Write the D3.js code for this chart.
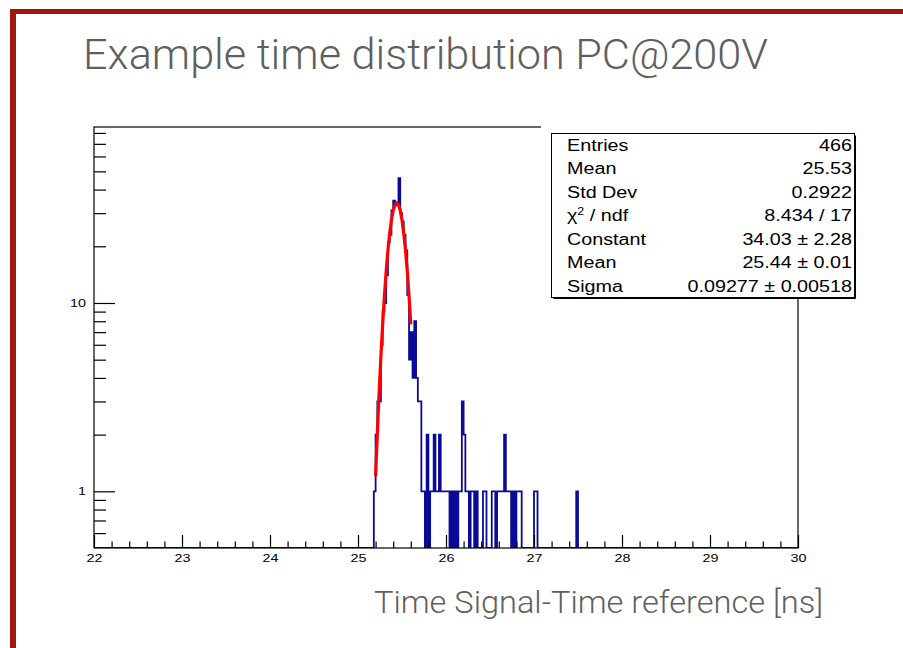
<!doctype html>
<html>
<head>
<meta charset="utf-8">
<title>Example time distribution PC@200V</title>
<script src="https://cdnjs.cloudflare.com/ajax/libs/d3/7.8.5/d3.min.js"></script>
<style>
  body { margin: 0; background: #fff; }
  svg { display: block; }
  text { font-family: "Liberation Sans", Arial, Helvetica, sans-serif; }
  .slide { font-family: Roboto, "Liberation Sans", Arial, sans-serif; font-weight: 300; }
</style>
</head>
<body>
<div id="chart"></div>
<script>
// histogram: lower edge (ns) and content of every non-empty bin, bins are 0.02 ns wide
const binWidth = 0.02;
const binLow = [25.18, 25.20, 25.22, 25.24, 25.26, 25.28, 25.30, 25.32, 25.34, 25.36,
                25.38, 25.40, 25.42, 25.44, 25.46, 25.48, 25.50, 25.52, 25.54, 25.56,
                25.58, 25.60, 25.62, 25.64, 25.66, 25.68, 25.70, 25.72, 25.74, 25.78,
                25.82, 25.84, 25.86, 25.88, 25.90, 25.92, 25.94, 25.96, 25.98, 26.00,
                26.02, 26.06, 26.10, 26.14, 26.16, 26.18, 26.20, 26.22, 26.24, 26.28,
                26.30, 26.34, 26.42, 26.44, 26.52, 26.54, 26.58, 26.60, 26.62, 26.64,
                26.66, 26.68, 26.70, 26.72, 26.76, 26.80, 26.82, 26.84, 27.00, 27.02,
                27.48];
const binCount = [1, 2, 3, 3, 6, 9, 10, 14, 21, 23,
                  31, 35, 33, 34, 46, 30, 27, 23, 19, 11,
                  5, 7, 4, 8, 4, 3, 3, 1, 1, 2,
                  1, 1, 2, 1, 1, 2, 1, 1, 1, 1,
                  1, 1, 1, 1, 1, 3, 2, 1, 1, 1,
                  1, 1, 1, 1, 1, 1, 1, 1, 1, 1,
                  2, 1, 1, 1, 1, 1, 1, 1, 1, 1,
                  1];

// gaussian fit as drawn (red curve)
const fitT = [25.20, 25.22, 25.24, 25.26, 25.28, 25.30, 25.32, 25.34, 25.36, 25.38, 25.40,
              25.42, 25.44, 25.46, 25.48, 25.50, 25.52, 25.54, 25.56, 25.58, 25.60];
const fitV = [1.20, 2.05, 3.33, 5.18, 7.69, 10.89, 14.74, 19.03, 23.46, 27.61, 31.01,
              33.25, 34.03, 33.25, 31.01, 27.61, 23.46, 19.03, 14.74, 10.89, 7.69];

// axes
const xMajor = [22, 23, 24, 25, 26, 27, 28, 29, 30];
const yMajor = [1, 10];
const yMinor = [0.6, 0.7, 0.8, 0.9, 2, 3, 4, 5, 6, 7, 8, 9, 20, 30, 40, 50, 60, 70, 80];

// stats box
const statLabels = ["Entries", "Mean", "Std Dev", "χ2 / ndf", "Constant", "Mean", "Sigma"];
const statValues = ["466", "25.53", "0.2922", "8.434 / 17", "34.03 ± 2.28", "25.44 ± 0.01", "0.09277 ± 0.00518"];

const W = 903, H = 648;
const L = 94, R = 798, T = 127, B = 548;
const stretch = 1.25; // the ROOT picture is widened on the slide

const svg = d3.select('#chart').append('svg')
  .attr('width', W).attr('height', H);

svg.append('rect').attr('width', W).attr('height', H).attr('fill', '#fff');

// slide border
svg.append('rect').attr('x', 10).attr('y', 9).attr('width', W - 10).attr('height', 5).attr('fill', '#a3140c');
svg.append('rect').attr('x', 10).attr('y', 9).attr('width', 6).attr('height', H - 9).attr('fill', '#a3140c');

// slide title
svg.append('text')
  .attr('class', 'slide')
  .attr('x', 83).attr('y', 69)
  .attr('font-size', 42)
  .attr('fill', '#5f5f5f')
  .attr('textLength', 685).attr('lengthAdjust', 'spacingAndGlyphs')
  .text('Example time distribution PC@200V');

const x = d3.scaleLinear().domain([22, 30]).range([L, R]);
const y = d3.scaleLog().domain([0.5, 86]).range([B, T]);

svg.append('clipPath').attr('id', 'plot')
  .append('rect').attr('x', L).attr('y', T).attr('width', R - L).attr('height', B - T);

// fill every bin from 22 to 30, empty ones with 0
const nBins = Math.round((30 - 22) / binWidth);
const bins = d3.range(nBins + 1).map(i => ({ t: 22 + i * binWidth, c: 0 }));
binLow.forEach((t, i) => { bins[Math.round((t - 22) / binWidth)].c = binCount[i]; });
bins[nBins].c = bins[nBins - 1].c;

const histLine = d3.line()
  .x(d => x(d.t))
  .y(d => y(Math.max(d.c, 0.5)))
  .curve(d3.curveStepAfter);

svg.append('path')
  .datum(bins)
  .attr('clip-path', 'url(#plot)')
  .attr('d', histLine)
  .attr('fill', 'none')
  .attr('stroke', '#0a0a96')
  .attr('stroke-width', 1.8);

const fitLine = d3.line()
  .x((d, i) => x(fitT[i]))
  .y(d => y(d));

svg.append('path')
  .datum(fitV)
  .attr('d', fitLine)
  .attr('fill', 'none')
  .attr('stroke', '#ff0000')
  .attr('stroke-width', 3.2);

// x axis, ticks pointing up into the frame
const xMinor = d3.range(22, 30.001, 0.2).filter(v => Math.abs(v - Math.round(v)) > 0.01);

svg.append('g')
  .attr('transform', `translate(0,${B})`)
  .call(d3.axisBottom(x).tickValues(xMinor).tickSize(-6.5).tickFormat(''))
  .call(g => g.select('.domain').remove());

const xAxis = svg.append('g')
  .attr('transform', `translate(0,${B})`)
  .call(d3.axisBottom(x).tickValues(xMajor).tickSize(-13).tickPadding(6).tickFormat(d3.format('d')))
  .call(g => g.select('.domain').remove());
xAxis.selectAll('text')
  .attr('font-size', 11.5).attr('fill', '#000')
  .attr('transform', `scale(${stretch},1)`);

// y axis
svg.append('g')
  .attr('transform', `translate(${L},0)`)
  .call(d3.axisLeft(y).tickValues(yMinor).tickSize(-12).tickFormat(''))
  .call(g => g.select('.domain').remove());

const yAxis = svg.append('g')
  .attr('transform', `translate(${L},0)`)
  .call(d3.axisLeft(y).tickValues(yMajor).tickSize(-21).tickFormat(d3.format('d')))
  .call(g => g.select('.domain').remove());
yAxis.selectAll('text')
  .attr('x', 0)
  .attr('font-size', 11.5).attr('fill', '#000')
  .attr('transform', `translate(-8,0) scale(${stretch},1)`);

svg.selectAll('.tick line').attr('stroke', '#000').attr('stroke-width', 1.2);

// frame
svg.append('rect')
  .attr('x', L).attr('y', T).attr('width', R - L).attr('height', B - T)
  .attr('fill', 'none').attr('stroke', '#000').attr('stroke-width', 1.2);

// stats box
const sx0 = 551.5, sx1 = 854.5, sy0 = 133.5, sy1 = 297.5;
svg.append('rect')
  .attr('x', 541).attr('y', 120).attr('width', sx1 - 541 + 4).attr('height', sy1 - 120)
  .attr('fill', '#fff');
svg.append('rect')
  .attr('x', sx0).attr('y', sy0).attr('width', sx1 - sx0).attr('height', sy1 - sy0)
  .attr('fill', '#fff').attr('stroke', '#000').attr('stroke-width', 1);
svg.append('path')
  .attr('d', `M${sx0 + 2},${sy1 + 1}H${sx1 + 1}V${sy0 + 2}`)
  .attr('fill', 'none').attr('stroke', '#000').attr('stroke-width', 1);

const rowY = d3.scaleLinear().domain([0, 1]).range([150.5, 174]);

statLabels.forEach((lab, i) => {
  const t = svg.append('text')
    .attr('transform', `translate(567,${rowY(i)}) scale(${stretch},1)`)
    .attr('font-size', 15.8).attr('fill', '#000');
  if (lab.startsWith('χ2')) {
    t.append('tspan').text('χ');
    t.append('tspan').attr('font-size', 10).attr('dy', -6).text('2');
    t.append('tspan').attr('dy', 6).text(' / ndf');
  } else {
    t.text(lab);
  }
  svg.append('text')
    .attr('transform', `translate(852,${rowY(i)}) scale(${stretch},1)`)
    .attr('text-anchor', 'end')
    .attr('font-size', 15.8).attr('fill', '#000')
    .text(statValues[i]);
});

// x axis title on the slide
svg.append('text')
  .attr('class', 'slide')
  .attr('x', 374).attr('y', 613)
  .attr('font-size', 31.5)
  .attr('fill', '#5f5f5f')
  .attr('textLength', 449).attr('lengthAdjust', 'spacingAndGlyphs')
  .text('Time Signal-Time reference [ns]');
</script>
</body>
</html>
